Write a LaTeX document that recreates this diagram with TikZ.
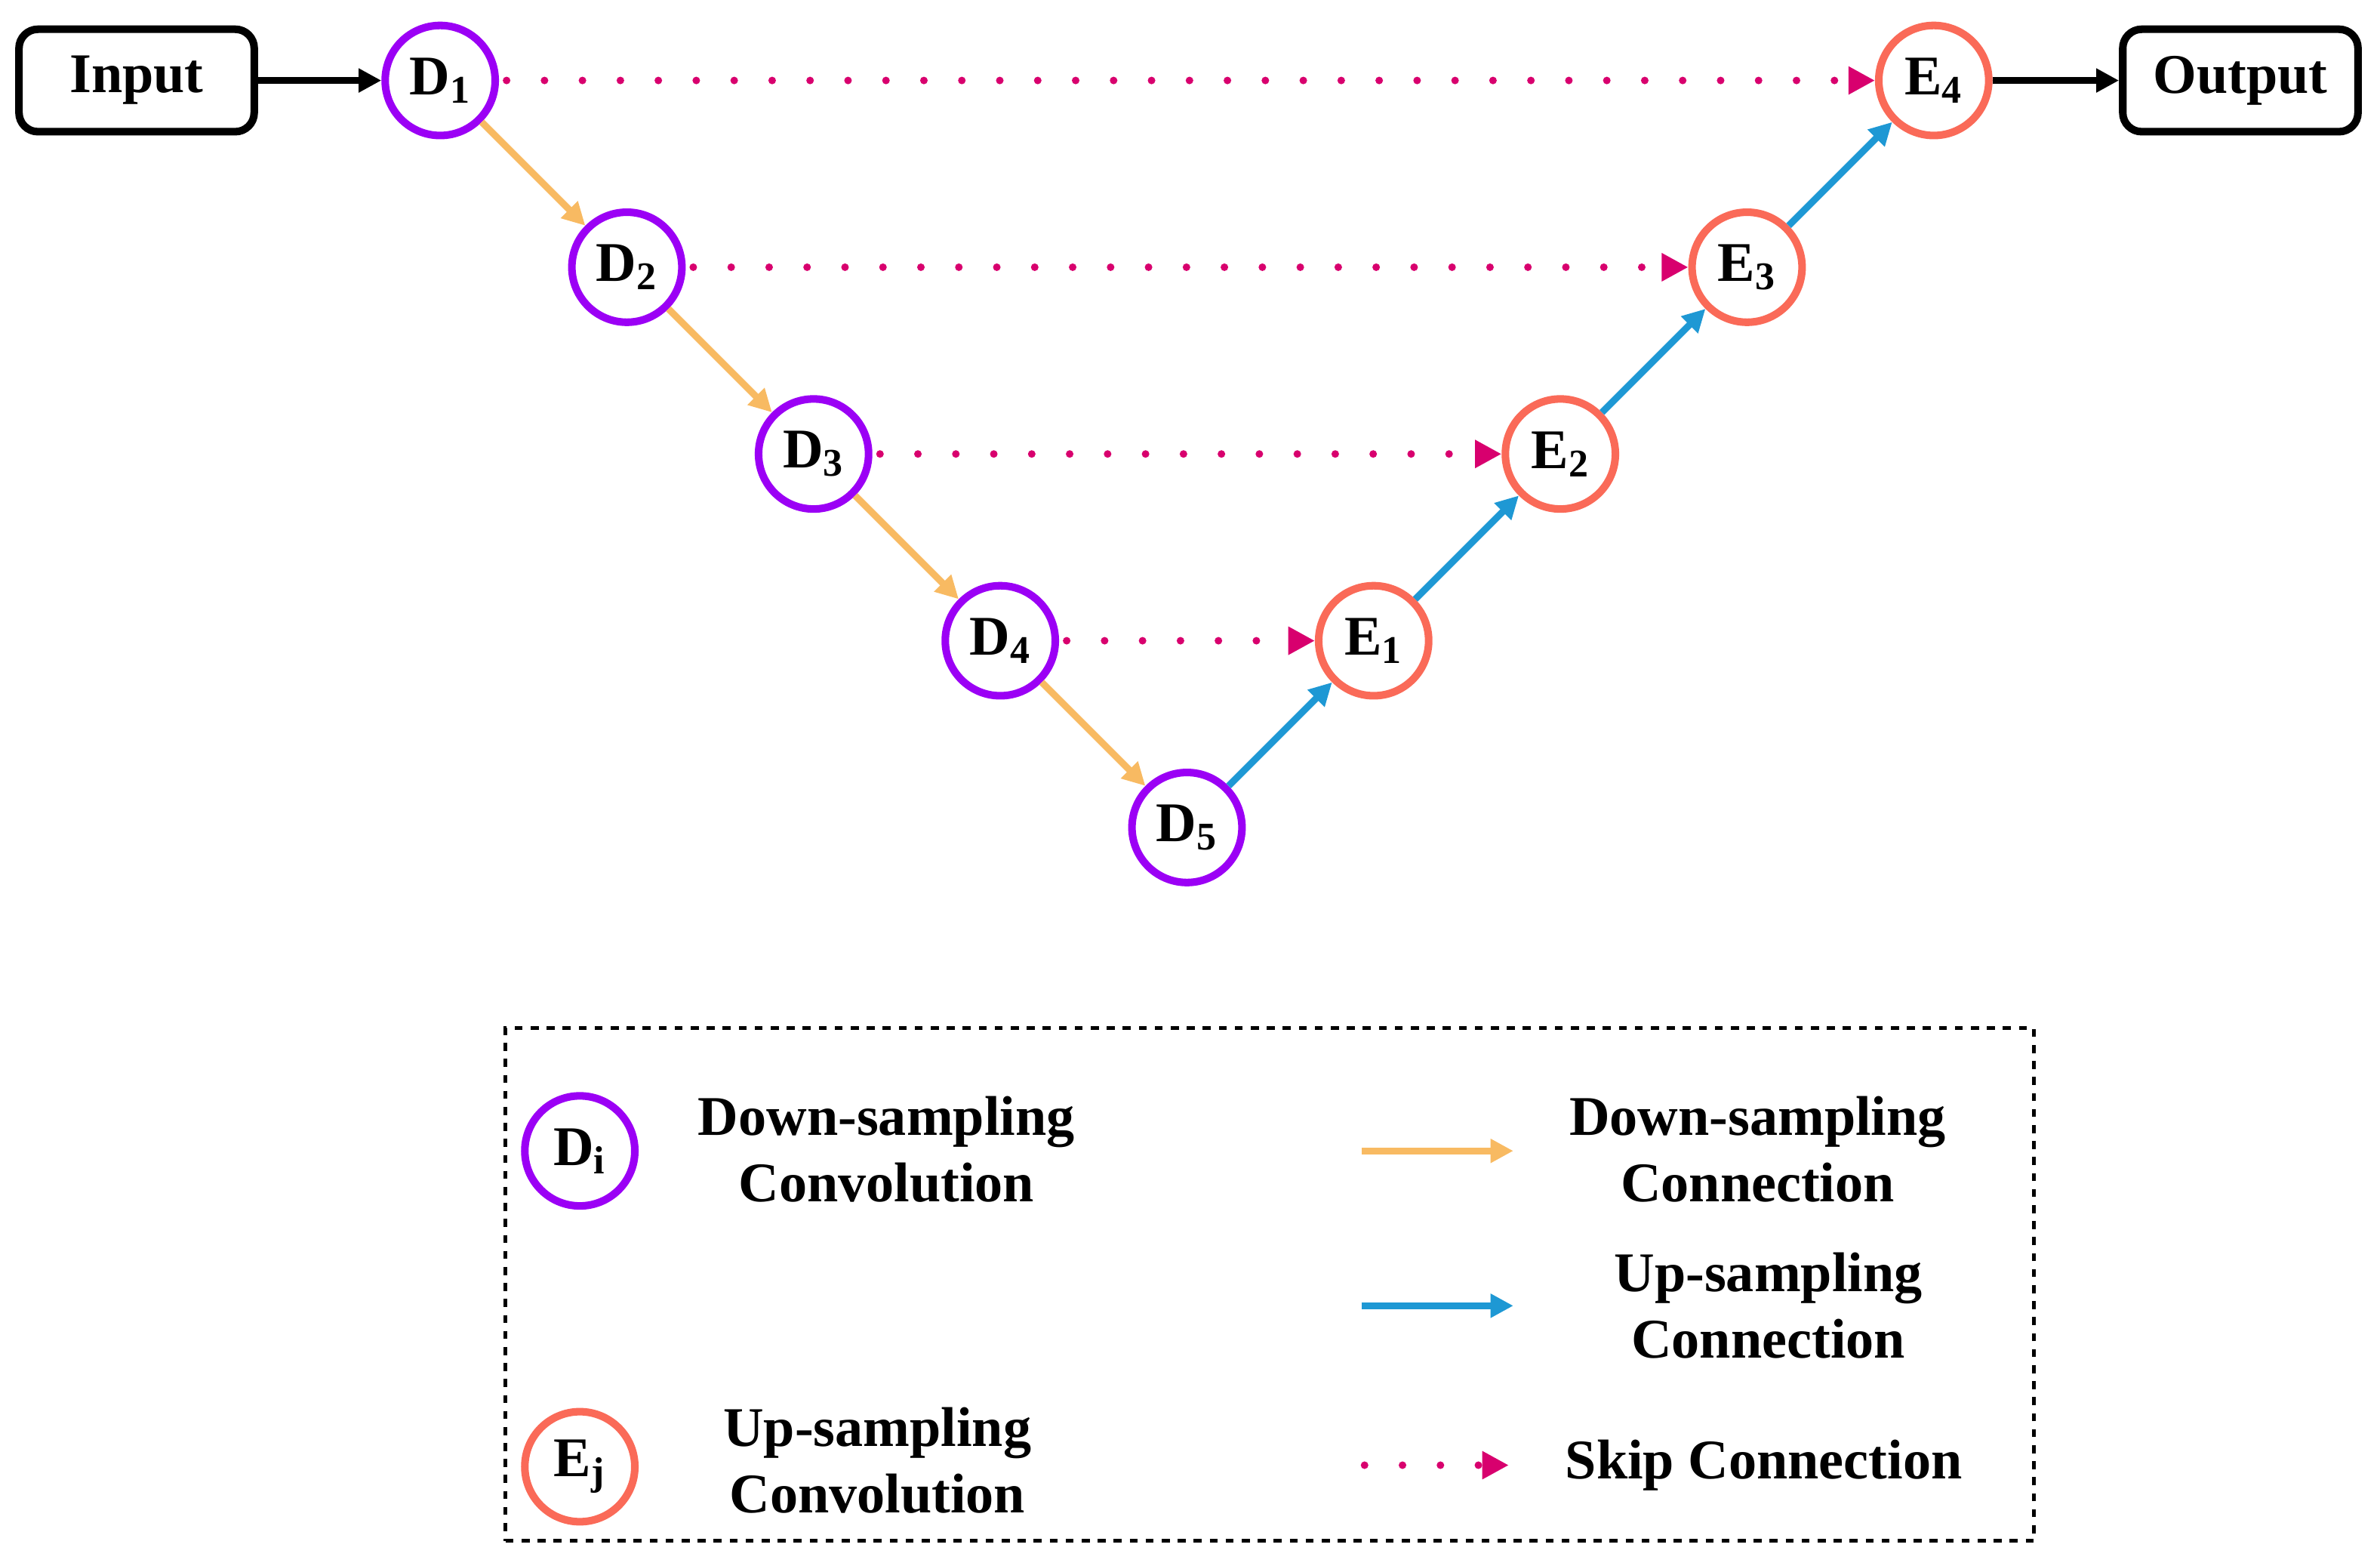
\documentclass[tikz,border=0pt]{standalone}
\usepackage{fontspec}
\setmainfont{Liberation Serif}
\usetikzlibrary{arrows.meta}
\definecolor{downc}{HTML}{9B00F5}
\definecolor{upc}{HTML}{FA6A58}
\definecolor{downa}{HTML}{F8BA62}
\definecolor{upa}{HTML}{1E98D4}
\definecolor{skipc}{HTML}{D8006E}
\newcommand{\bigbf}{\fontsize{21}{25}\selectfont\bfseries}
\tikzset{%
    enc/.style={circle,draw=downc,line width=0.1cm,minimum size=1.45cm,inner sep=0pt,font=\bigbf},
    dec/.style={circle,draw=upc,line width=0.1cm,minimum size=1.45cm,inner sep=0pt,font=\bigbf},
    io/.style={draw,rounded corners=0.25cm,line width=0.1cm,minimum width=3.1cm,minimum height=1.35cm,font=\bigbf},
    down/.style={-{Triangle[length=0.3cm,width=0.3cm]},draw=downa,line width=0.09cm},
    up/.style={-{Triangle[length=0.3cm,width=0.3cm]},draw=upa,line width=0.09cm},
    skip/.style={skipc,line width=0.1cm,line cap=round,dash pattern=on 0pt off 0.5cm,
        -{Triangle[length=0.35cm,width=0.35cm,line cap=butt]}},
    lbl/.style={font=\bigbf,align=center},
}
\begin{document}
\begin{tikzpicture}[x=0.02cm,y=-0.02cm]
  \useasboundingbox (0,0) rectangle (1568,1031);
  % main path
  \node[io] (in) at (90,53) {Input};
  \node[io] (out) at (1476,53) {Output};
  \foreach \i/\x/\y in {1/290/53,2/413/176,3/536/299,4/659/422,5/782/545}
    \node[enc] (D\i) at (\x,\y) {D\textsubscript{\i}};
  \foreach \j/\x/\y in {1/905/422,2/1028/299,3/1151/176,4/1274/53}
    \node[dec] (E\j) at (\x,\y) {E\textsubscript{\j}};
  \draw[-{Triangle[length=0.3cm,width=0.3cm]},line width=0.09cm] (in) -- (D1);
  \draw[-{Triangle[length=0.3cm,width=0.3cm]},line width=0.09cm] (E4) -- (out);
  \foreach \a/\b in {1/2,2/3,3/4,4/5}
    \draw[down] (D\a) -- (D\b);
  \draw[up] (D5) -- (E1);
  \foreach \a/\b in {1/2,2/3,3/4}
    \draw[up] (E\a) -- (E\b);
  \foreach \i/\j in {1/4,2/3,3/2,4/1}
    \draw[skip] ([xshift=0.1cm]D\i.east) -- (E\j.west);

  % legend
  \node[draw,dashed,line width=0.05cm,minimum width=20.14cm,minimum height=6.76cm] (legend) at (836.5,846) {};
  \node[enc] (Di) at (382,758) {D\textsubscript{i}};
  \node[dec] (Ej) at (382,966) {E\textsubscript{j}};
  \node[lbl] (tDi) at (584,757) {Down-sampling\\Convolution};
  \node[lbl] (tEj) at (578,962) {Up-sampling\\Convolution};
  \coordinate (a1) at (897,758); \coordinate (b1) at (997,758);
  \coordinate (a2) at (897,860); \coordinate (b2) at (997,860);
  \coordinate (a3) at (899,965); \coordinate (b3) at (994,965);
  \draw[down] (a1) -- (b1);
  \draw[up] (a2) -- (b2);
  \draw[skip] (a3) -- (b3);
  \node[lbl] (tdc) at (1158,757) {Down-sampling\\Connection};
  \node[lbl] (tuc) at (1165,860) {Up-sampling\\Connection};
  \node[lbl] (tsc) at (1162,965) {Skip Connection};
\end{tikzpicture}
\end{document}
